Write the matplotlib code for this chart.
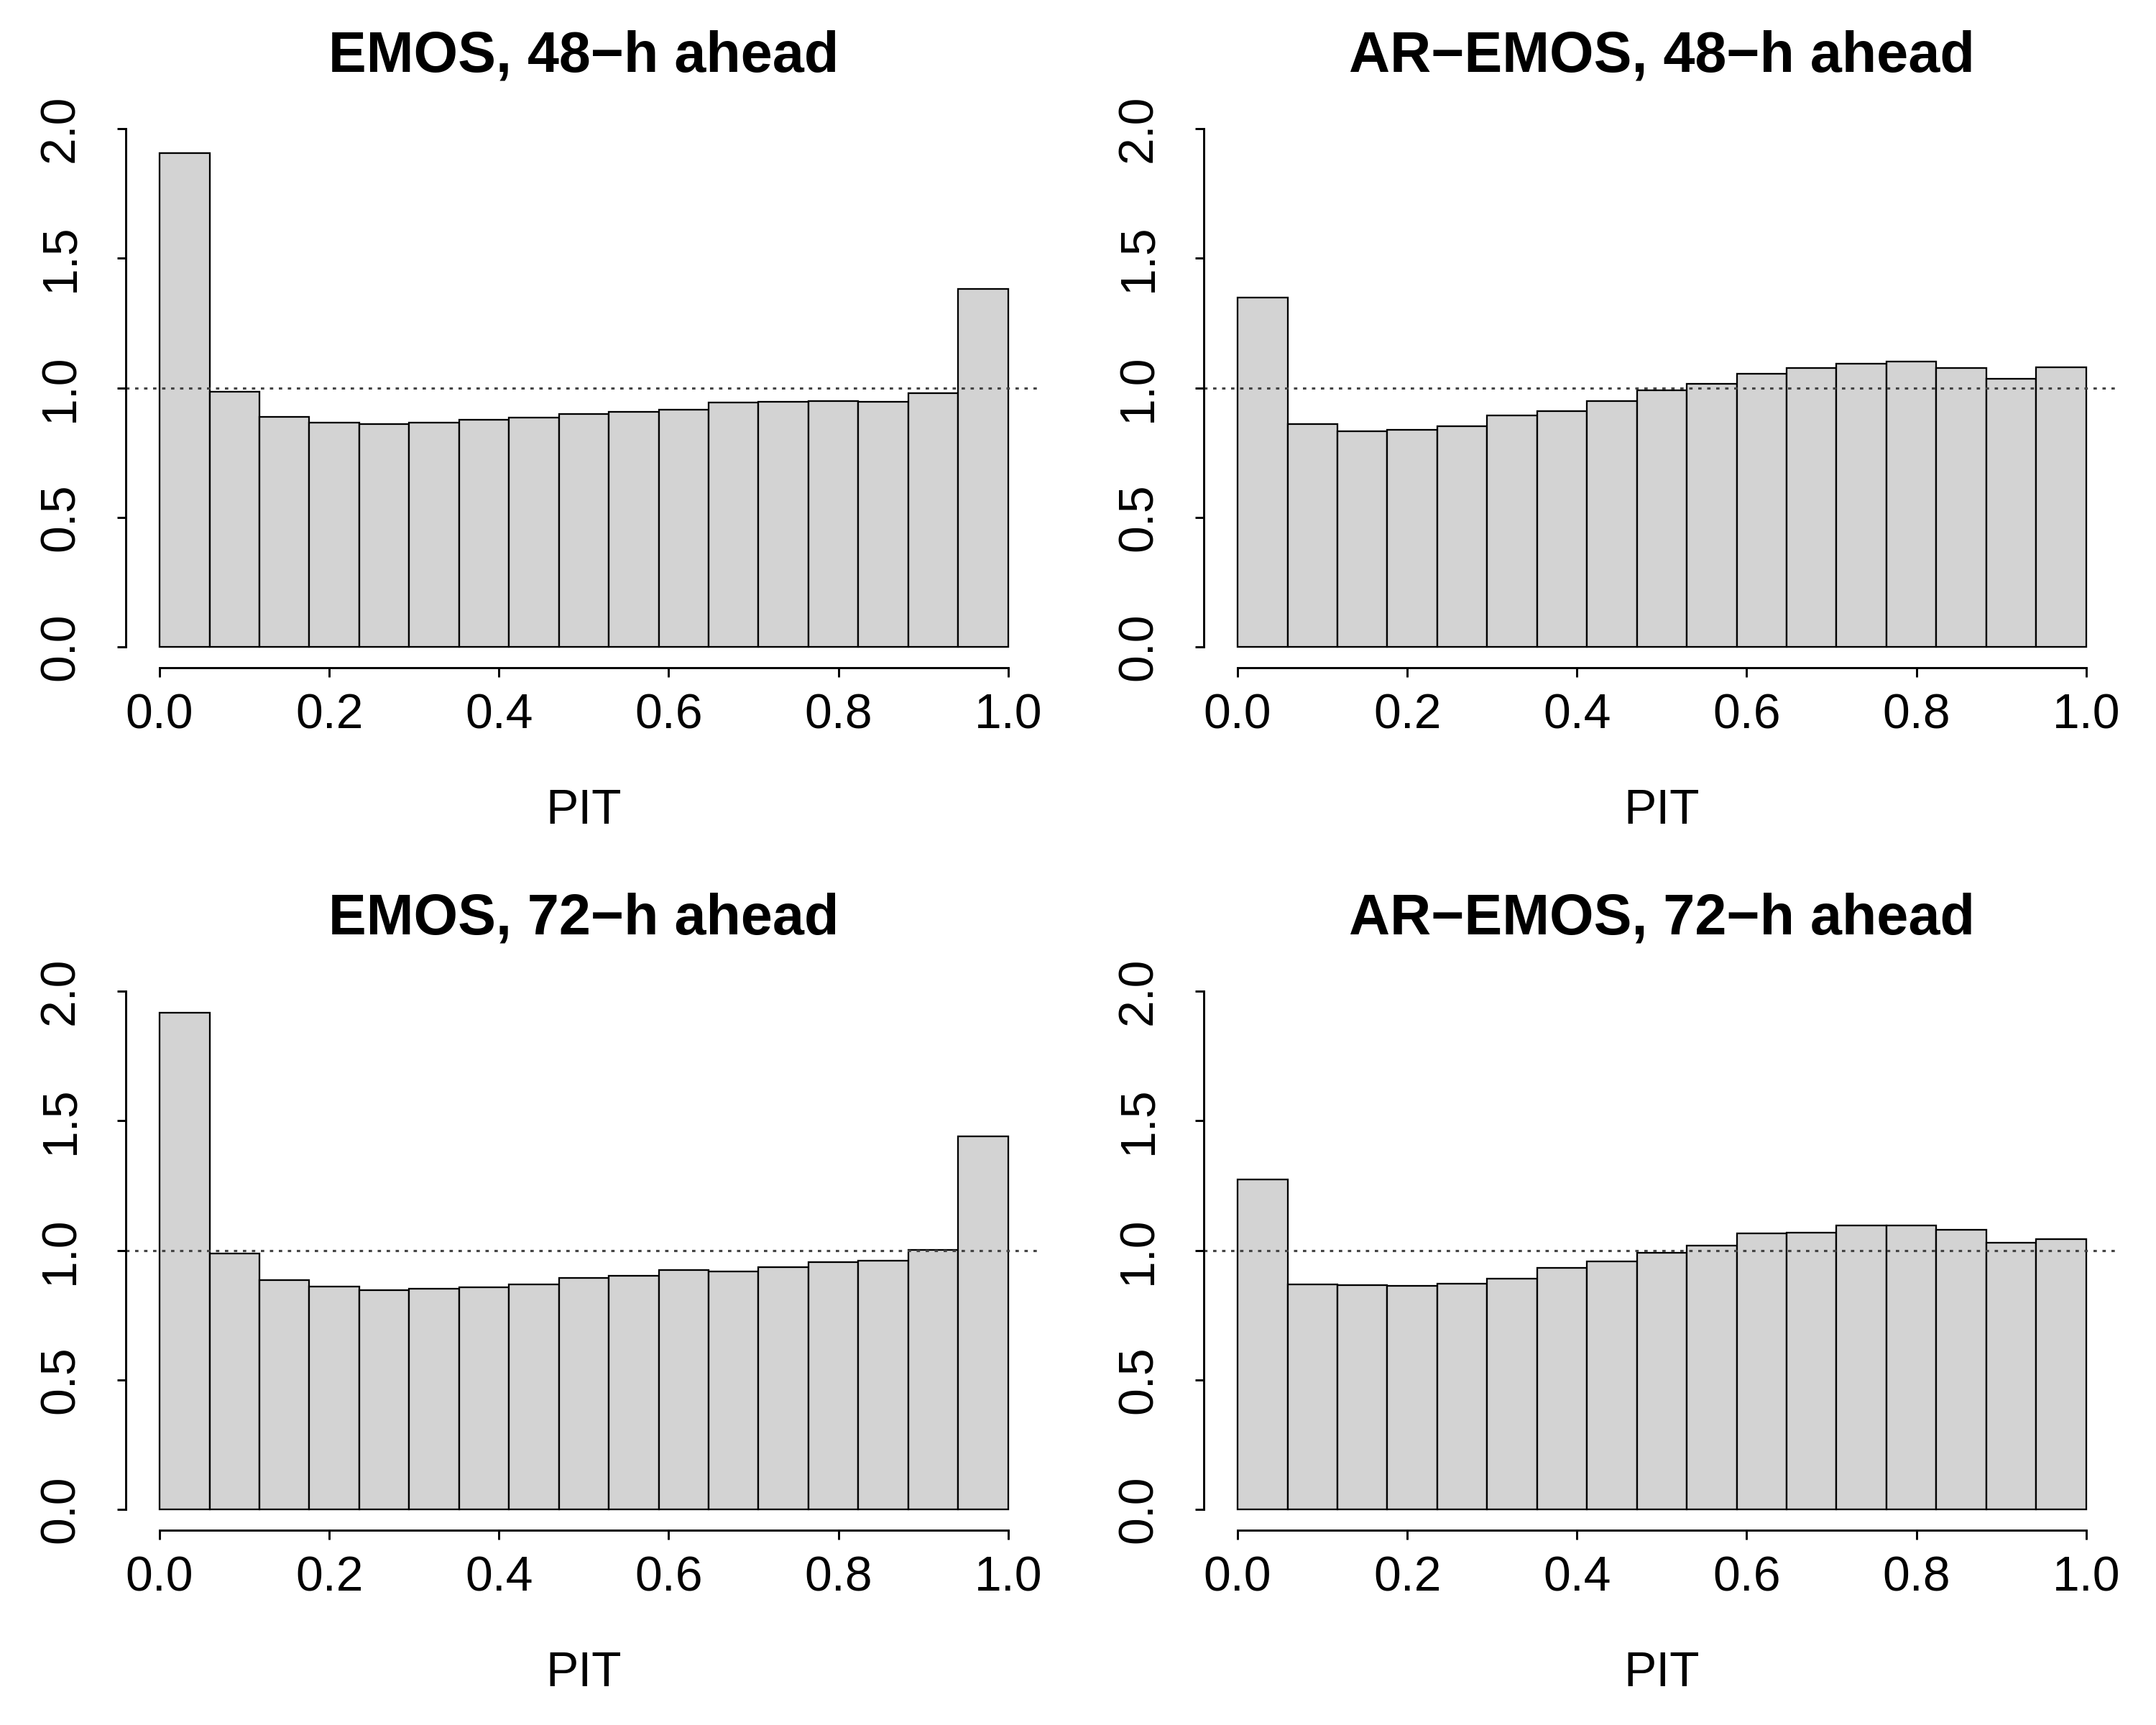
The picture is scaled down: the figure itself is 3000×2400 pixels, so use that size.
"""
PIT histograms for EMOS and AR-EMOS, 48-h and 72-h lead times.
"""

import matplotlib

matplotlib.use("Agg")
import matplotlib.pyplot as plt  # noqa: E402
import numpy as np  # noqa: E402

plt.rcParams["font.family"] = ["Liberation Sans", "DejaVu Sans"]

N_BINS = 17

emos_48 = [1.906, 0.984, 0.889, 0.865, 0.861, 0.865, 0.878, 0.885, 0.898,
           0.908, 0.916, 0.942, 0.947, 0.949, 0.947, 0.979, 1.380]
ar_emos_48 = [1.349, 0.861, 0.832, 0.838, 0.852, 0.892, 0.910, 0.949, 0.991,
              1.014, 1.054, 1.077, 1.092, 1.102, 1.077, 1.034, 1.080]
emos_72 = [1.916, 0.987, 0.886, 0.861, 0.846, 0.853, 0.856, 0.868, 0.892,
           0.902, 0.925, 0.919, 0.936, 0.954, 0.960, 1.001, 1.440]
ar_emos_72 = [1.273, 0.869, 0.866, 0.862, 0.871, 0.890, 0.933, 0.957, 0.989,
              1.017, 1.065, 1.067, 1.095, 1.095, 1.078, 1.028, 1.044]

titles = [
    "EMOS, 48\u2212h ahead",
    "AR\u2212EMOS, 48\u2212h ahead",
    "EMOS, 72\u2212h ahead",
    "AR\u2212EMOS, 72\u2212h ahead",
]
panels = [emos_48, ar_emos_48, emos_72, ar_emos_72]

x_ticks = [0.0, 0.2, 0.4, 0.6, 0.8, 1.0]
y_ticks = [0.0, 0.5, 1.0, 1.5, 2.0]

# axes boxes (left, bottom, width, height) in figure fractions
lefts = [0.0583, 0.5583]
bottoms = [0.6129, 0.1129]
width = 0.4250
height = 0.3246

fig = plt.figure(figsize=(10, 8), dpi=300)

edges = np.linspace(0, 1, N_BINS + 1)

for i, (vals, title) in enumerate(zip(panels, titles)):
    ax = fig.add_axes([lefts[i % 2], bottoms[i // 2], width, height])
    ax.bar(edges[:-1], vals, width=np.diff(edges), align="edge",
           color="#D3D3D3", edgecolor="black", linewidth=0.55)
    ax.axhline(1.0, color="#444444", linestyle=(0, (1.5, 2.5)), linewidth=0.75)

    ax.set_xlim(-0.04, 1.04)
    ax.set_ylim(-0.08, 2.08)

    for side in ("top", "right"):
        ax.spines[side].set_visible(False)
    ax.spines["left"].set_bounds(0, 2)
    ax.spines["bottom"].set_bounds(0, 1)
    ax.spines["left"].set_linewidth(0.7)
    ax.spines["bottom"].set_linewidth(0.7)

    ax.set_xticks(x_ticks)
    ax.set_xticklabels([f"{t:.1f}" for t in x_ticks])
    ax.set_yticks(y_ticks)
    ax.set_yticklabels([f"{t:.1f}" for t in y_ticks], rotation=90, va="center")
    ax.tick_params(axis="both", direction="out", length=3.0, width=0.7,
                   labelsize=16.3)
    ax.tick_params(axis="x", pad=5.3)
    ax.tick_params(axis="y", pad=11)

    ax.set_xlabel("PIT", fontsize=16.3, labelpad=16.5)
    ax.set_title(title, fontsize=19, fontweight="bold", pad=12)

fig.savefig("out.png", dpi=300)
